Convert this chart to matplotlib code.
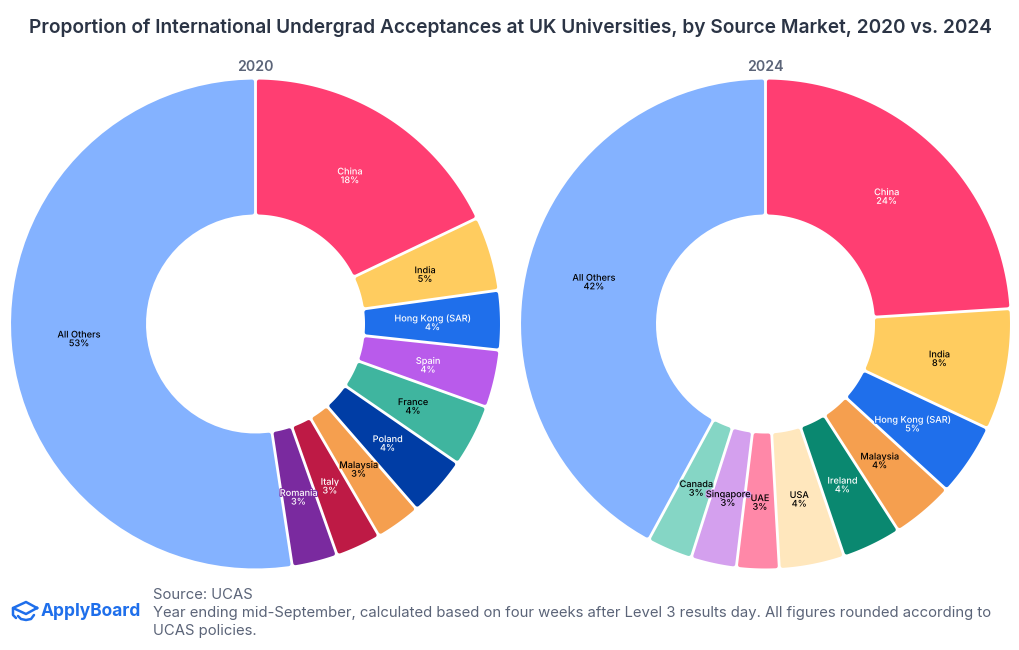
import matplotlib.pyplot as plt
import matplotlib.patheffects as pe
from matplotlib.patches import Polygon
import numpy as np

plt.rcParams['font.family'] = ['Inter', 'DejaVu Sans']

# 2020 slices, clockwise from 12 o'clock
labels_2020 = ['China', 'India', 'Hong Kong (SAR)', 'Spain', 'France', 'Poland',
               'Malaysia', 'Italy', 'Romania', 'All Others']
values_2020 = [17.9, 4.9, 3.9, 3.8, 4.1, 4.0, 3.0, 3.0, 3.0, 52.4]
shown_2020 = ['18%', '5%', '4%', '4%', '4%', '4%', '3%', '3%', '3%', '53%']
colors_2020 = ['#FF3E72', '#FFCC5F', '#1F6FEB', '#B95BEB', '#3FB59F', '#003DA5',
               '#F59F4F', '#BE1A45', '#7A2A9F', '#84B2FF']
text_2020 = ['white', 'black', 'white', 'white', 'black', 'white',
             'black', 'white', 'white', 'black']

# 2024 slices
labels_2024 = ['China', 'India', 'Hong Kong (SAR)', 'Malaysia', 'Ireland', 'USA',
               'UAE', 'Singapore', 'Canada', 'All Others']
values_2024 = [24.0, 8.0, 4.8, 4.1, 3.9, 4.3, 2.8, 3.0, 3.0, 42.1]
shown_2024 = ['24%', '8%', '5%', '4%', '4%', '4%', '3%', '3%', '3%', '42%']
colors_2024 = ['#FF3E72', '#FFCC5F', '#1F6FEB', '#F59F4F', '#0A8870', '#FFE7BD',
               '#FF88A8', '#D4A0EE', '#85D6C5', '#84B2FF']
text_2024 = ['white', 'black', 'white', 'black', 'white', 'black',
             'black', 'black', 'black', 'black']

FW, FH = 1020, 650
R_PX = 244.5
HOLE = 109.5 / R_PX
R_INSET = 2.1 / R_PX   # stroke half width, keeps the outer radius right
SIDE_INSET = 3.5 / R_PX  # leaves a gap of about 2.8 px between slices
ROUND_LW = 3.0       # stroke in points, gives the rounded corners

title_color = '#2B3445'
grey = '#5B6478'
blue = '#1F6FEB'


def sector(t1, t2, r0, r1, d):
    # ring sector with straight, parallel gaps (angles in degrees)
    off0 = np.degrees(np.arcsin(d / r0))
    off1 = np.degrees(np.arcsin(d / r1))
    a_out = np.radians(np.linspace(t1 + off1, t2 - off1, 60))
    a_in = np.radians(np.linspace(t2 - off0, t1 + off0, 40))
    x = np.concatenate([r1 * np.cos(a_out), r0 * np.cos(a_in)])
    y = np.concatenate([r1 * np.sin(a_out), r0 * np.sin(a_in)])
    return np.column_stack([x, y])


def donut(cx, year, labels, values, shown, colors, text_colors):
    half = 250.0
    cy = 324.0
    ax = fig.add_axes([(cx - half) / FW, 1 - (cy + half) / FH, 2 * half / FW, 2 * half / FH])
    wedges, _ = ax.pie(values, colors=colors, startangle=90, counterclock=False, radius=1)
    for w, col in zip(wedges, colors):
        w.set_visible(False)
        pts = sector(w.theta1, w.theta2, HOLE + R_INSET, 1 - R_INSET, SIDE_INSET)
        ax.add_patch(Polygon(pts, closed=True, facecolor=col, edgecolor=col,
                             linewidth=ROUND_LW, joinstyle='round'))
    for w, name, pct, col, tc in zip(wedges, labels, shown, colors, text_colors):
        mid = np.radians((w.theta1 + w.theta2) / 2)
        r = (1 + HOLE) / 2
        ax.text(r * np.cos(mid), r * np.sin(mid) - 2 / R_PX, name + '\n' + pct,
                ha='center', va='center', fontsize=6.6, fontweight='medium', color=tc,
                linespacing=0.95, zorder=5,
                path_effects=[pe.withStroke(linewidth=1.5, foreground=col)])
    ax.set_xlim(-half / R_PX, half / R_PX)
    ax.set_ylim(-half / R_PX, half / R_PX)
    ax.set_aspect('equal')
    ax.axis('off')
    fig.text(cx / FW, 1 - 67 / FH, year, ha='center', va='center', fontsize=10.2,
             fontweight='semibold', color=grey)


fig = plt.figure(figsize=(FW / 100, FH / 100), dpi=100, facecolor='white')

donut(255.5, '2020', labels_2020, values_2020, shown_2020, colors_2020, text_2020)
donut(765.5, '2024', labels_2024, values_2024, shown_2024, colors_2024, text_2024)

fig.text(510 / FW, 1 - 28 / FH,
         'Proportion of International Undergrad Acceptances at UK Universities, by Source Market, 2020 vs. 2024',
         ha='center', va='center', fontsize=13.77, fontweight='semibold', color=title_color)

fig.text(153 / FW, 1 - 595 / FH, 'Source: UCAS', va='center', fontsize=10.7, color=grey)
fig.text(153 / FW, 1 - 613 / FH,
         'Year ending mid-September, calculated based on four weeks after Level 3 results day. All figures rounded according to',
         va='center', fontsize=10.7, color=grey)
fig.text(153 / FW, 1 - 631 / FH, 'UCAS policies.', va='center', fontsize=10.7, color=grey)

fig.text(41 / FW, 1 - 611 / FH, 'ApplyBoard', va='center', fontsize=12.5, fontweight='bold', color=blue)

# logo cap, in figure pixels
bg = fig.add_axes([0, 0, 1, 1], zorder=-1)
bg.set_xlim(0, FW)
bg.set_ylim(FH, 0)
bg.axis('off')
bg.plot([37, 26, 13, 26, 37], [608, 602, 608, 614, 608], color=blue, lw=1.8, solid_joinstyle='round')
bg.plot([13, 13, 16], [608, 615, 618], color=blue, lw=1.8, solid_capstyle='round')
bg.plot([18, 21, 26, 31, 34], [616, 619, 620, 619, 615], color=blue, lw=1.8, solid_capstyle='round')

fig.savefig('out.png', dpi=100)
